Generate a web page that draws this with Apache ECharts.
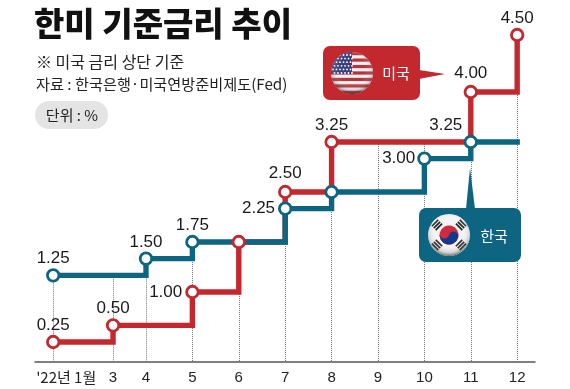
<!DOCTYPE html>
<html><head><meta charset="utf-8">
<style>html,body{margin:0;padding:0;background:#fff}#c{width:570px;height:389px}</style>
<script src="https://cdn.jsdelivr.net/npm/echarts@6/dist/echarts.min.js"></script>
</head><body><div id="c"></div>
<script>
const tickLabels = ["'22년 1월", '3', '4', '5', '6', '7', '8', '9', '10', '11', '12'];
const tickPositions = [2, 3.29, 4, 5, 6, 7, 8, 9, 10, 11, 12];
const usRates = [0.25, 0.50, 0.50, 1.00, 1.75, 2.50, 3.25, 3.25, 3.25, 4.00, 4.50];
const krRates = [1.25, 1.25, 1.50, 1.75, 1.75, 2.25, 2.50, 2.50, 3.00, 3.25, 3.25];

const RED = '#c4282f', TEAL = '#0e6581', INK = '#1a1a1a';
const KR = '"Noto Sans CJK KR"';
const NUM = '"Liberation Sans"';
// The reference stretches the last step (4.00 to 4.50) beyond the linear scale.
const level = v => v <= 4 ? v : 4 + (v - 4) * 1.71;

const usPts = tickPositions.map((x, i) => [x, level(usRates[i])]);
const krPts = tickPositions.map((x, i) => [x, level(krRates[i])]);

const labelPlace = {
  us: {0: {position: 'top', distance: 1}, 3: {position: 'left', distance: 3},
       4: {show: false},
       5: {position: 'top', distance: 3}, 9: {position: 'top', distance: 3}, 10: {position: 'top', distance: 1}},
  kr: {5: {position: 'left', distance: 3}, 6: {show: false}, 8: {position: 'left', distance: 2},
       9: {position: 'top', distance: 1, offset: [-25, 0]}}
};
function dots(rates, pts, key) {
  const out = [];
  rates.forEach((r, i) => {
    if (i === 0 || r !== rates[i - 1]) {
      const item = {value: pts[i], rate: r};
      if (labelPlace[key][i]) item.label = labelPlace[key][i];
      out.push(item);
    }
  });
  return out;
}
const guides = tickPositions.map((x, i) => [
  {coord: [x, Math.max(usPts[i][1], krPts[i][1])]}, {coord: [x, -0.05]}
]);
const lineBase = (color, z, data) => ({
  type: 'line', step: 'end', data, z, symbol: 'none', silent: true,
  lineStyle: {color, width: 5.4, cap: 'square', join: 'miter'}
});
const dotBase = (color, z, data) => ({
  type: 'scatter', data, z, symbol: 'circle', symbolSize: 11.5, silent: true,
  itemStyle: {color: '#fff', borderColor: color, borderWidth: 2.8, opacity: 1},
  label: {show: true, position: 'top', distance: 1, color: INK, fontFamily: NUM, fontSize: 17,
    formatter: p => p.data.rate.toFixed(2)}
});

const uri = s => 'data:image/svg+xml;charset=utf-8,' + encodeURIComponent(s);
const shade = `<defs><radialGradient id="g" cx="50%" cy="42%" r="58%"><stop offset="0.55" stop-color="#fff" stop-opacity="0"/><stop offset="0.85" stop-color="#777" stop-opacity=".25"/><stop offset="1" stop-color="#222" stop-opacity=".65"/></radialGradient><clipPath id="k"><circle cx="21" cy="21" r="21"/></clipPath></defs>`;
let stripes = '';
for (let i = 0; i < 13; i += 2) stripes += `<rect x="0" y="${i * 42 / 13}" width="42" height="${42 / 13}" fill="#b5333c"/>`;
let stars = '';
for (let r = 0; r < 6; r++) for (let c = 0; c < 6; c++) stars += `<circle cx="${2 + c * 3.5 + (r % 2) * 1.5}" cy="${3 + r * 3.6}" r=".9" fill="#fff"/>`;
const usFlag = uri(`<svg xmlns="http://www.w3.org/2000/svg" width="42" height="42">${shade}<g clip-path="url(#k)"><rect width="42" height="42" fill="#f3f0f0"/>${stripes}<rect width="21" height="22" fill="#3b3f7c"/>${stars}<circle cx="21" cy="21" r="21" fill="url(#g)"/></g></svg>`);
const tri = (cx, cy, rot) => {
  let s = `<g transform="translate(${cx} ${cy}) rotate(${rot})">`;
  for (let i = 0; i < 3; i++) s += `<rect x="-4.5" y="${-3.6 + i * 2.7}" width="9" height="1.7" fill="#222"/>`;
  return s + '</g>';
};
const krFlag = uri(`<svg xmlns="http://www.w3.org/2000/svg" width="42" height="42">${shade}<g clip-path="url(#k)"><rect width="42" height="42" fill="#f4f4f4"/><g transform="rotate(15 21 21)"><circle cx="21" cy="21" r="9.5" fill="#d02a3f"/><path d="M11.5 21a9.5 9.5 0 0 0 19 0a4.75 4.75 0 0 0-9.5 0a4.75 4.75 0 0 1-9.5 0z" fill="#123a8c"/></g>${tri(9, 11, -45)}${tri(33, 11, 45)}${tri(9, 31, 45)}${tri(33, 31, -45)}<circle cx="21" cy="21" r="21" fill="url(#g)"/></g></svg>`);

const graphic = [
  {type: 'text', z: 20, style: {x: 36, y: 62, text: '※ 미국 금리 상단 기준', font: `16px ${KR}`, fill: '#222', verticalAlign: 'middle'}},
  {type: 'text', z: 20, style: {x: 36, y: 84, text: '자료 : 한국은행·미국연방준비제도(Fed)', font: `15.2px ${KR}`, fill: '#222', verticalAlign: 'middle'}},
  {type: 'rect', z: 19, shape: {x: 35, y: 101, width: 73, height: 28, r: 14}, style: {fill: '#e4e4e4'}},
  {type: 'text', z: 20, style: {x: 72, y: 115, text: '단위 : %', font: `15px ${KR}`, fill: '#222', align: 'center', verticalAlign: 'middle'}},
  {type: 'rect', z: 19, shape: {x: 323, y: 46, width: 97, height: 54, r: 7}, style: {fill: RED}},
  {type: 'polygon', z: 19, shape: {points: [[419, 70], [445, 74], [419, 79]]}, style: {fill: RED}},
  {type: 'image', z: 20, style: {image: usFlag, x: 331, y: 52, width: 42, height: 42}},
  {type: 'text', z: 20, style: {x: 396, y: 73, text: '미국', font: `15px ${KR}`, fill: '#fff', align: 'center', verticalAlign: 'middle'}},
  {type: 'rect', z: 19, shape: {x: 419, y: 208, width: 102, height: 54, r: 7}, style: {fill: TEAL}},
  {type: 'polygon', z: 19, shape: {points: [[466, 209], [470, 168], [475, 209]]}, style: {fill: TEAL}},
  {type: 'image', z: 20, style: {image: krFlag, x: 428, y: 214, width: 42, height: 42}},
  {type: 'text', z: 20, style: {x: 494, y: 236, text: '한국', font: `15px ${KR}`, fill: '#fff', align: 'center', verticalAlign: 'middle'}}
];

const chart = echarts.init(document.getElementById('c'), null, {renderer: 'canvas'});
chart.setOption({
  animation: false,
  backgroundColor: '#fff',
  title: {text: '한미 기준금리 추이', left: 34, top: 7, padding: 0,
    textStyle: {fontFamily: KR, fontSize: 33, fontWeight: 900, color: '#111'}},
  grid: {left: 35, right: 35, top: 0, bottom: 27},
  xAxis: {
    type: 'value', min: 1.608, max: 12.384,
    axisLine: {show: true, onZero: false, lineStyle: {color: '#555', width: 1.5}},
    axisTick: {show: false},
    splitLine: {show: false},
    axisLabel: {
      show: true, customValues: tickPositions, margin: 8, color: '#222',
      fontFamily: NUM, fontSize: 15, hideOverlap: false,
      showMinLabel: true, showMaxLabel: true,
      formatter: (v) => {
        const t = tickLabels[tickPositions.indexOf(v)];
        return v === tickPositions[0] ? `{first|${t}}` : t;
      },
      rich: {first: {fontFamily: KR, fontSize: 15, padding: [0, 0, 0, 26], color: '#222'}}
    }
  },
  yAxis: {type: 'value', min: -0.05, max: 5.38, show: false, splitLine: {show: false}},
  series: [
    {type: 'line', data: [], z: 1, silent: true,
      markLine: {silent: true, symbol: 'none', label: {show: false}, z: 1,
        lineStyle: {type: 'dotted', color: '#777', width: 1}, data: guides}},
    lineBase(RED, 2, usPts),
    lineBase(TEAL, 3, krPts),
    dotBase(TEAL, 4, dots(krRates, krPts, 'kr')),
    dotBase(RED, 5, dots(usRates, usPts, 'us'))
  ],
  graphic
});
</script></body></html>
